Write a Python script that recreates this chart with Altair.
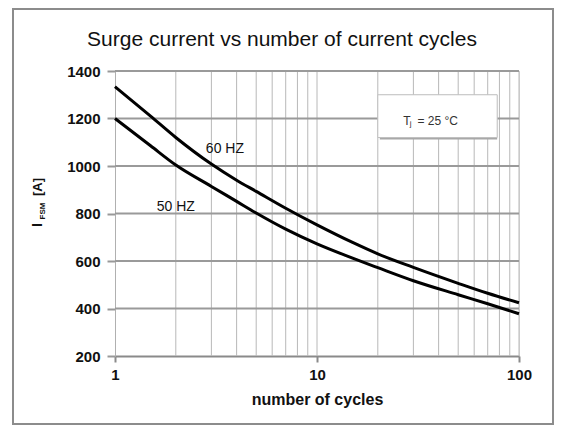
import altair as alt
import pandas as pd

# ---- data ----
cycles = [1, 1.5, 2, 3, 4, 5, 7, 10, 15, 20, 30, 50, 70, 100]
i60 = [1334, 1210, 1120, 1008, 940, 893, 822, 752, 678, 630, 573, 506, 464, 424]
i50 = [1200, 1085, 1004, 914, 851, 802, 734, 672, 612, 572, 517, 458, 420, 378]
series_names = ["60 HZ", "50 HZ"]
label_x = [3.5, 2.0]
label_y = [1072, 827]
y_ticks = [200, 400, 600, 800, 1000, 1200, 1400]
x_ticks = [1, 10, 100]
x_grid = [2, 3, 4, 5, 6, 7, 8, 9, 10, 20, 30, 40, 50, 60, 70, 80, 90, 100]
box_x = [20, 78]
box_y = [1120, 1300]
tj_x = [26.7, 28.8, 31.4]
tj_y = [1190, 1178, 1190]
tj_text = ["T", "j", "=  25 °C"]
tj_size = [12, 8, 12]

n = len(cycles)
curves_df = pd.DataFrame({
    "cycles": cycles * 2,
    "current": i60 + i50,
    "series": [series_names[0]] * n + [series_names[1]] * n,
})
labels_df = pd.DataFrame({"cycles": label_x, "current": label_y, "text": series_names})
box_df = pd.DataFrame({"cycles": [box_x[0]], "c2": [box_x[1]], "current": [box_y[0]], "i2": [box_y[1]]})
tj_df = pd.DataFrame({"cycles": tj_x, "current": tj_y, "text": tj_text, "size": tj_size})
grid_x_df = pd.DataFrame({"cycles": x_grid})
grid_y_df = pd.DataFrame({"current": y_ticks[1:]})
one = pd.DataFrame({"a": [0]})

FONT = "Liberation Sans"
W, H = 404, 285
xscale = alt.Scale(type="log", domain=[1, 100], nice=False)
yscale = alt.Scale(domain=[200, 1400], nice=False, zero=False)

x_axis = alt.Axis(values=x_ticks, format="d", grid=False, title="number of cycles",
                  domainColor="#8a8a8a", domainWidth=2, tickColor="#8a8a8a", tickWidth=2,
                  tickSize=6, labelPadding=5, labelFont=FONT, labelFontSize=15,
                  labelFontWeight="bold", labelColor="#111", titleFont=FONT,
                  titleFontSize=16, titleFontWeight="bold", titleColor="#111",
                  titlePadding=9, labelFlush=False)
y_axis = alt.Axis(values=y_ticks, format="d", grid=False, title=None,
                  domainColor="#b0b0b0", domainWidth=1, tickColor="#999", tickWidth=2,
                  tickSize=8, labelPadding=7, labelFont=FONT, labelFontSize=15,
                  labelFontWeight="bold", labelColor="#111")

X = alt.X("cycles:Q", scale=xscale, axis=x_axis)
Y = alt.Y("current:Q", scale=yscale, axis=y_axis)

vgrid = alt.Chart(grid_x_df).mark_rule(color="#b8b8b8", strokeWidth=1).encode(x=X)
hgrid = alt.Chart(grid_y_df).mark_rule(color="#9a9a9a", strokeWidth=2).encode(y=Y)

curves = alt.Chart(curves_df).mark_line(color="black", strokeWidth=3, interpolate="monotone").encode(
    x=X, y=Y, detail="series:N",
)

labels = alt.Chart(labels_df).mark_text(font=FONT, fontSize=14, color="#111",
                                        align="center", baseline="middle").encode(
    x=X, y=Y, text="text:N",
)

shadow = alt.Chart(box_df).mark_rect(fill="#a8a8a8", xOffset=2, yOffset=2).encode(
    x=X, x2="c2:Q", y=Y, y2="i2:Q",
)
box = alt.Chart(box_df).mark_rect(fill="white", stroke="#c0c0c0", strokeWidth=1).encode(
    x=X, x2="c2:Q", y=Y, y2="i2:Q",
)
tj = alt.Chart(tj_df).mark_text(font=FONT, color="#333", align="left", baseline="middle").encode(
    x=X, y=Y, text="text:N",
    size=alt.Size("size:Q", scale=None, legend=None),
)

def pix_text(txt, px, py, size, weight="normal", angle=0):
    return alt.Chart(one).mark_text(text=txt, font=FONT, fontSize=size, fontWeight=weight,
                                    color="#111", angle=angle, align="center",
                                    baseline="middle").encode(
        x=alt.value(px), y=alt.value(py))

ytitle_I = pix_text("I", -77, 154, 14, "bold", 270)
ytitle_sub = pix_text("FSM", -72, 140, 8, "bold", 270)
ytitle_A = pix_text("[A]", -77, 116, 13, "bold", 270)
title = pix_text("Surge current vs number of current cycles", 167, -31, 21)

frame = alt.Chart(one).mark_rect(fillOpacity=0, stroke="#8c8c8c", strokeWidth=2).encode(
    x=alt.value(-102), x2=alt.value(438), y=alt.value(-62), y2=alt.value(353)
)

chart = alt.layer(vgrid, hgrid, curves, labels, shadow, box, tj,
                  ytitle_I, ytitle_sub, ytitle_A, title, frame).properties(
    width=W, height=H,
    padding={"left": 107, "top": 63, "right": 36, "bottom": 69},
    autosize=alt.AutoSizeParams(type="none"),
).configure_view(stroke=None).configure(background="white")

chart.save("out.html", embed_options={"renderer": "svg", "actions": False})
